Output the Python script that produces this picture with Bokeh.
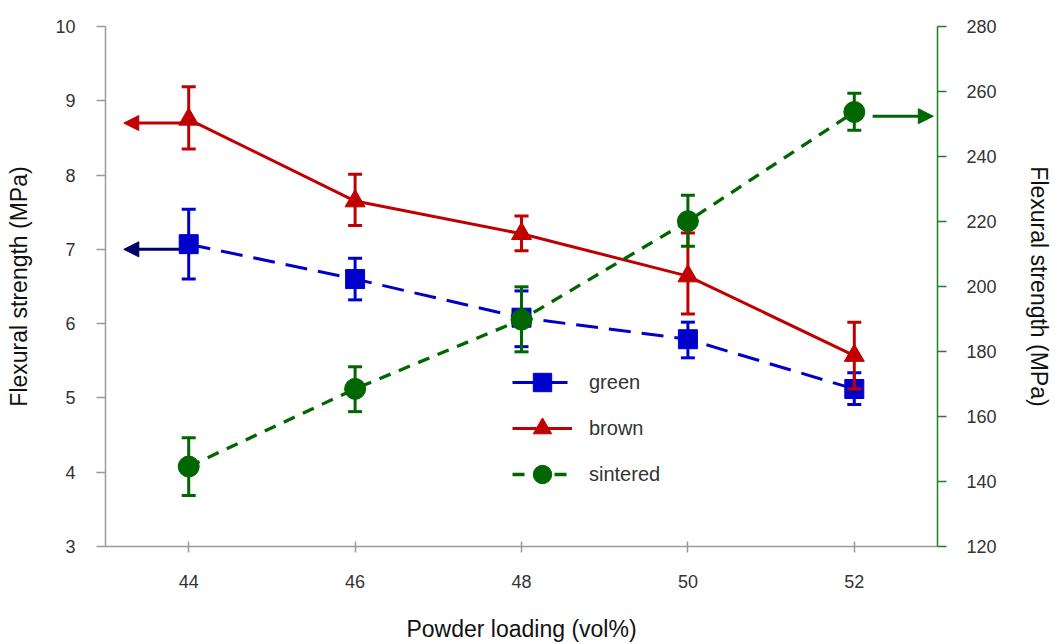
from bokeh.plotting import figure
from bokeh.models import (Range1d, LinearAxis, FixedTicker, ColumnDataSource, Whisker, TeeHead,
                          Arrow, NormalHead, Legend, LegendItem)
from bokeh.embed import file_html
from bokeh.resources import INLINE

# ---- data ----
loading = [44, 46, 48, 50, 52]
green = [7.07, 6.60, 6.08, 5.79, 5.12]
green_hi = [7.54, 6.88, 6.44, 6.02, 5.34]
green_lo = [6.60, 6.32, 5.69, 5.54, 4.91]
brown = [8.75, 7.65, 7.21, 6.64, 5.57]
brown_hi = [9.19, 8.01, 7.45, 7.22, 6.02]
brown_lo = [8.35, 7.32, 6.98, 6.13, 5.12]
sintered = [144.6, 168.5, 189.8, 220.1, 253.7]
sintered_hi = [153.5, 175.3, 199.9, 228.1, 259.5]
sintered_lo = [135.7, 161.5, 179.9, 212.4, 248.1]

x_ticks = [44, 46, 48, 50, 52]
left_ticks = [3, 4, 5, 6, 7, 8, 9, 10]
right_ticks = [120, 140, 160, 180, 200, 220, 240, 260, 280]

# axis-pointer arrows (data coordinates)
arrow_brown = dict(x0=44, x1=43.22, y=8.70)
arrow_green = dict(x0=44, x1=43.22, y=7.00)
arrow_sint = dict(x0=52.22, x1=52.95, y=252.4)

BLUE = "#0000CC"
RED = "#C00000"
DGREEN = "#006600"
NAVY = "#000066"
AXGREEN = "#1f7f1f"
GRAY = "#9a9a9a"
FONT = "Liberation Sans"
TXT = "#333333"

p = figure(width=1055, height=644, x_range=Range1d(43, 53), y_range=Range1d(3, 10),
           output_backend="svg", toolbar_location=None,
           min_border_left=105, min_border_right=118, min_border_top=26, min_border_bottom=97)
p.extra_y_ranges = {"right": Range1d(120, 280)}
p.outline_line_color = None
p.grid.visible = False
p.background_fill_color = "white"
p.border_fill_color = "white"

xa = p.xaxis[0]
xa.ticker = FixedTicker(ticks=x_ticks)
xa.axis_label = "Powder loading (vol%)"
ya = p.yaxis[0]
ya.ticker = FixedTicker(ticks=left_ticks)
ya.axis_label = "Flexural strength (MPa)"
ra = LinearAxis(y_range_name="right", ticker=FixedTicker(ticks=right_ticks),
                axis_label="Flexural strength (MPa)")
p.add_layout(ra, "right")

for ax, col in ((xa, GRAY), (ya, GRAY), (ra, AXGREEN)):
    ax.axis_line_color = col
    ax.axis_line_width = 1.5
    ax.major_tick_line_color = col
    ax.major_tick_line_width = 1.5
    ax.minor_tick_line_color = None
    ax.major_label_text_font = FONT
    ax.major_label_text_font_size = "18px"
    ax.major_label_text_color = TXT
    ax.axis_label_text_font = FONT
    ax.axis_label_text_font_size = "23px"
    ax.axis_label_text_font_style = "normal"
    ax.axis_label_text_color = "#111111"

xa.major_tick_in = 5
xa.major_tick_out = 6
xa.major_label_standoff = 22
xa.axis_label_standoff = 25
ya.major_tick_in = 0
ya.major_tick_out = 9
ya.major_label_standoff = 21
ya.axis_label_standoff = 20
ra.major_tick_in = 0
ra.major_tick_out = 9
ra.major_label_standoff = 20
ra.axis_label_standoff = 26

# arrows
p.add_layout(Arrow(end=NormalHead(size=15, fill_color=RED, line_color=RED),
                   x_start=arrow_brown["x0"], y_start=arrow_brown["y"],
                   x_end=arrow_brown["x1"], y_end=arrow_brown["y"],
                   line_color=RED, line_width=3, level="underlay"))
p.add_layout(Arrow(end=NormalHead(size=15, fill_color=NAVY, line_color=NAVY),
                   x_start=arrow_green["x0"], y_start=arrow_green["y"],
                   x_end=arrow_green["x1"], y_end=arrow_green["y"],
                   line_color=NAVY, line_width=3, level="underlay"))
p.add_layout(Arrow(end=NormalHead(size=15, fill_color=DGREEN, line_color=DGREEN),
                   x_start=arrow_sint["x0"], y_start=arrow_sint["y"],
                   x_end=arrow_sint["x1"], y_end=arrow_sint["y"],
                   line_color=DGREEN, line_width=3, y_range_name="right", level="underlay"))

src_g = ColumnDataSource(dict(x=loading, y=green, hi=green_hi, lo=green_lo))
src_b = ColumnDataSource(dict(x=loading, y=brown, hi=brown_hi, lo=brown_lo))
src_s = ColumnDataSource(dict(x=loading, y=sintered, hi=sintered_hi, lo=sintered_lo))

# lines
lg = p.line("x", "y", source=src_g, line_color=BLUE, line_width=3, line_dash="22 11")
lb = p.line("x", "y", source=src_b, line_color=RED, line_width=3)
ls = p.line("x", "y", source=src_s, line_color=DGREEN, line_width=3.3, line_dash="12 9",
            y_range_name="right")

# error bars
def whisk(src, col, rng=None):
    kw = dict(base="x", upper="hi", lower="lo", source=src, line_color=col, line_width=3,
              upper_head=TeeHead(size=14, line_color=col, line_width=3),
              lower_head=TeeHead(size=14, line_color=col, line_width=3), level="glyph")
    if rng:
        kw["y_range_name"] = rng
    p.add_layout(Whisker(**kw))

whisk(src_g, BLUE)
whisk(src_b, RED)
whisk(src_s, DGREEN, "right")

# markers
mg = p.scatter("x", "y", source=src_g, marker="square", size=19, fill_color=BLUE, line_color=BLUE)
mb = p.scatter("x", "y", source=src_b, marker="triangle", size=20, fill_color=RED, line_color=RED)
ms = p.scatter("x", "y", source=src_s, marker="circle", size=21, fill_color=DGREEN, line_color=DGREEN,
               y_range_name="right")

legend = Legend(items=[LegendItem(label="green", renderers=[lg, mg]),
                       LegendItem(label="brown", renderers=[lb, mb]),
                       LegendItem(label="sintered", renderers=[ls, ms])],
                location=(407, 49), glyph_width=60, glyph_height=46, spacing=0, padding=0,
                margin=0, label_standoff=17, border_line_color=None, background_fill_alpha=0,
                label_text_font=FONT, label_text_font_size="20px", label_text_color=TXT,
                label_height=46)
p.add_layout(legend)

open("out.html", "w").write(file_html(p, INLINE))
